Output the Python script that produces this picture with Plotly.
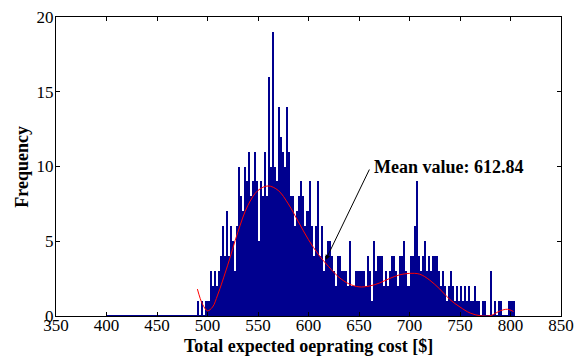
import plotly.graph_objects as go

# Histogram bins (bin width 2) and counts
bin_centers = list(range(401, 805, 2))
counts = [
    0, 0, 0, 0, 0, 0, 0, 0, 0, 0,
    0, 0, 0, 0, 0, 0, 0, 0, 0, 0,
    0, 0, 0, 0, 0, 0, 0, 0, 0, 0,
    0, 0, 0, 0, 0, 0, 0, 0, 0, 0,
    0, 0, 0, 0, 0,
    1, 0, 1, 0, 1, 1, 3, 2, 3, 2,
    3, 4, 6, 4, 7, 4, 6, 5, 3, 6,
    10, 8, 7, 10, 9, 11, 8, 9, 11, 9,
    5, 9, 8, 11, 8, 16, 10, 19, 10, 9,
    14, 12, 11, 10, 14, 11, 8, 8, 6, 7,
    8, 9, 8, 6, 7, 9, 6, 4, 6, 9,
    4, 6, 3, 4, 5, 5, 4, 3, 2, 4,
    4, 3, 3, 3, 2, 5, 2, 2, 3, 3,
    3, 3, 3, 2, 4, 3, 1, 5, 3, 4,
    4, 4, 2, 3, 2, 3, 4, 4, 3, 2,
    4, 4, 5, 3, 2, 4, 4, 6, 9, 4,
    3, 4, 5, 3, 4, 3, 4, 4, 4, 3,
    2, 3, 2, 1, 2, 3, 2, 1, 2, 1,
    2, 1, 2, 1, 2, 1, 1, 2, 1, 1,
    0, 1, 1, 0, 0, 3, 0, 1, 0, 1,
    1, 0, 0, 0, 1, 1, 1,
]
bin_width = 2

# Fitted curve (red)
fit_x = [490, 495, 500, 505, 510, 520, 530, 540, 550, 560, 570, 580, 590, 600,
         610, 620, 630, 640, 650, 660, 670, 680, 690, 700, 710, 720, 730, 740,
         750, 760, 770, 780, 790, 797, 803]
fit_y = [1.8, 0.8, 0.35, 0.6, 1.4, 3.4, 5.6, 7.4, 8.4, 8.7, 8.4, 7.5, 6.3, 5.1,
         4.1, 3.3, 2.6, 2.15, 1.95, 2.0, 2.2, 2.5, 2.75, 2.85, 2.8, 2.4, 1.8, 1.1,
         0.6, 0.2, 0.02, 0.02, 0.35, 0.45, 0.3]

mean_value = 612.84
x_ticks = [350, 400, 450, 500, 550, 600, 650, 700, 750, 800, 850]
y_ticks = [0, 5, 10, 15, 20]
x_title = "Total expected oeprating cost [$]"
y_title = "Frequency"

NAVY = "#00008F"
FONT = "Liberation Serif, Times New Roman, serif"

fig = go.Figure()
# baseline over the full binned range
fig.add_trace(go.Scatter(
    x=[bin_centers[0] - bin_width / 2, bin_centers[-1] + bin_width / 2], y=[0, 0],
    mode="lines", line=dict(color=NAVY, width=2), hoverinfo="skip", showlegend=False))
fig.add_trace(go.Bar(
    x=bin_centers, y=counts, width=bin_width,
    marker=dict(color=NAVY, line=dict(width=0)), showlegend=False))
fig.add_trace(go.Scatter(
    x=fit_x, y=fit_y, mode="lines", line=dict(color="red", width=1, shape="spline"),
    showlegend=False))

fig.add_annotation(x=617, y=3.75, ax=661, ay=9.9, axref="x", ayref="y",
                   text="", showarrow=True, arrowhead=2, arrowsize=1,
                   arrowwidth=1, arrowcolor="black")
fig.add_annotation(x=663, y=10.0, xanchor="left", yanchor="middle",
                   text="<b>Mean value: %.2f</b>" % mean_value, showarrow=False,
                   font=dict(family=FONT, size=18, color="black"))

# axis titles placed as annotations relative to the plot area
fig.add_annotation(xref="paper", yref="paper", x=0.5, y=-0.1, xanchor="center",
                   yanchor="middle", text="<b>%s</b>" % x_title, showarrow=False,
                   font=dict(family=FONT, size=18, color="black"))
fig.add_annotation(xref="paper", yref="paper", x=-0.069, y=0.5, xanchor="center",
                   yanchor="middle", textangle=-90, text="<b>%s</b>" % y_title,
                   showarrow=False, font=dict(family=FONT, size=18, color="black"))

axis_common = dict(showline=True, linecolor="black", linewidth=1, mirror="ticks",
                   ticks="inside", ticklen=4, tickcolor="black", showgrid=False,
                   zeroline=False, automargin=False,
                   tickfont=dict(family=FONT, size=17, color="black"))

fig.update_layout(
    width=587, height=356,
    margin=dict(l=56, r=26, t=17, b=40),
    paper_bgcolor="white", plot_bgcolor="white",
    bargap=0,
    xaxis=dict(range=[350, 850], tickvals=x_ticks, ticklabelstandoff=-6, **axis_common),
    yaxis=dict(range=[0, 20], tickvals=y_ticks, ticklabelstandoff=-2, **axis_common),
)

fig.write_html("out.html")
